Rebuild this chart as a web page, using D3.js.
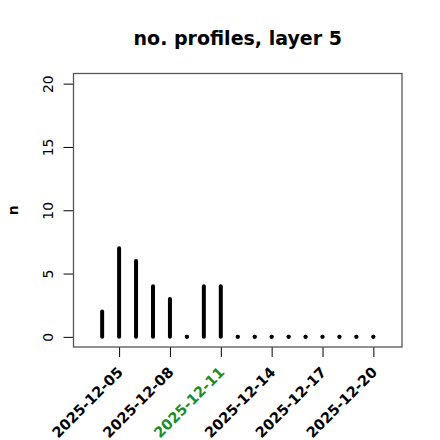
<!DOCTYPE html>
<html><head><meta charset="utf-8">
<script src="https://cdn.jsdelivr.net/npm/d3@7"></script>
<style>body{margin:0;background:#fff;} svg{display:block;font-family:"DejaVu Sans",sans-serif;}</style>
</head><body>
<script>
const dates = ["2025-12-04","2025-12-05","2025-12-06","2025-12-07","2025-12-08","2025-12-09","2025-12-10","2025-12-11","2025-12-12","2025-12-13","2025-12-14","2025-12-15","2025-12-16","2025-12-17","2025-12-18","2025-12-19","2025-12-20"];
const counts = [2,7,6,4,3,0,4,4,0,0,0,0,0,0,0,0,0];
const xTickLabels = ["2025-12-05","2025-12-08","2025-12-11","2025-12-14","2025-12-17","2025-12-20"];
const highlightLabel = "2025-12-11";
const yTicks = [0,5,10,15,20];
const title = "no. profiles, layer 5";
const yLabel = "n";

(function(){
const W=440,H=440;
const mL=73.5,mR=402,mT=73.5,mB=347;
const parse=d3.utcParse("%Y-%m-%d");
const fmt=d3.utcFormat("%Y-%m-%d");
const day=86400000;
const d0=parse(dates[0]), d1=parse(dates[dates.length-1]);
const pad=1.69*day;
const x=d3.scaleUtc().domain([new Date(+d0-pad),new Date(+d1+pad)]).range([mL,mR]);
const y=d3.scaleLinear().domain([-0.8,20.8]).range([mB,mT]);

const svg=d3.select("body").append("svg").attr("width",W).attr("height",H);

svg.append("text").attr("x",(mL+mR)/2).attr("y",45).attr("text-anchor","middle")
  .attr("font-weight","bold").attr("font-size",19).text(title);

// y axis
const ya=svg.append("g").attr("transform",`translate(${mL},0)`)
  .call(d3.axisLeft(y).tickValues(yTicks).tickSize(10).tickSizeOuter(0));
ya.select(".domain").attr("d",`M0,${y(0)}V${y(20)}`).attr("stroke","#000");
ya.selectAll(".tick line").attr("stroke","#000");
ya.selectAll(".tick text").attr("font-size",14).attr("font-family","DejaVu Sans")
  .attr("x",null).attr("dy","0.35em").attr("text-anchor","middle")
  .attr("transform","translate(-25,0) rotate(-90)");

// x axis
const tickDates=xTickLabels.map(parse);
const xa=svg.append("g").attr("transform",`translate(0,${mB})`)
  .call(d3.axisBottom(x).tickValues(tickDates).tickSize(10).tickFormat(fmt).tickSizeOuter(0));
xa.select(".domain").remove();
xa.selectAll(".tick line").attr("stroke","#000");
xa.selectAll(".tick text").attr("font-size",14.5).attr("font-weight","bold").attr("font-family","DejaVu Sans")
  .attr("text-anchor","end").attr("y",0).attr("dy","0.7em")
  .attr("transform","translate(-3,19) rotate(-45)")
  .attr("fill",d=>fmt(d)===highlightLabel?"#228B22":"#000");

// box
svg.append("rect").attr("x",mL).attr("y",mT).attr("width",mR-mL).attr("height",mB-mT)
  .attr("fill","none").attr("stroke","#555").attr("stroke-width",1.3);

// y label
svg.append("text").attr("transform",`translate(18,${(mT+mB)/2}) rotate(-90)`)
  .attr("text-anchor","middle").attr("font-weight","bold").attr("font-size",14).text(yLabel);

// bars (type h)
const data=dates.map((d,i)=>({d:parse(d),v:counts[i]}));
svg.append("g").selectAll("line").data(data).join("line")
  .attr("x1",d=>x(d.d)).attr("x2",d=>x(d.d)).attr("y1",y(0)).attr("y2",d=>y(d.v))
  .attr("stroke","#000").attr("stroke-width",4).attr("stroke-linecap","round");
svg.append("g").selectAll("circle").data(data.filter(d=>d.v===0)).join("circle")
  .attr("cx",d=>x(d.d)).attr("cy",y(0)).attr("r",2).attr("fill","#000");
})();
</script>
</body></html>
